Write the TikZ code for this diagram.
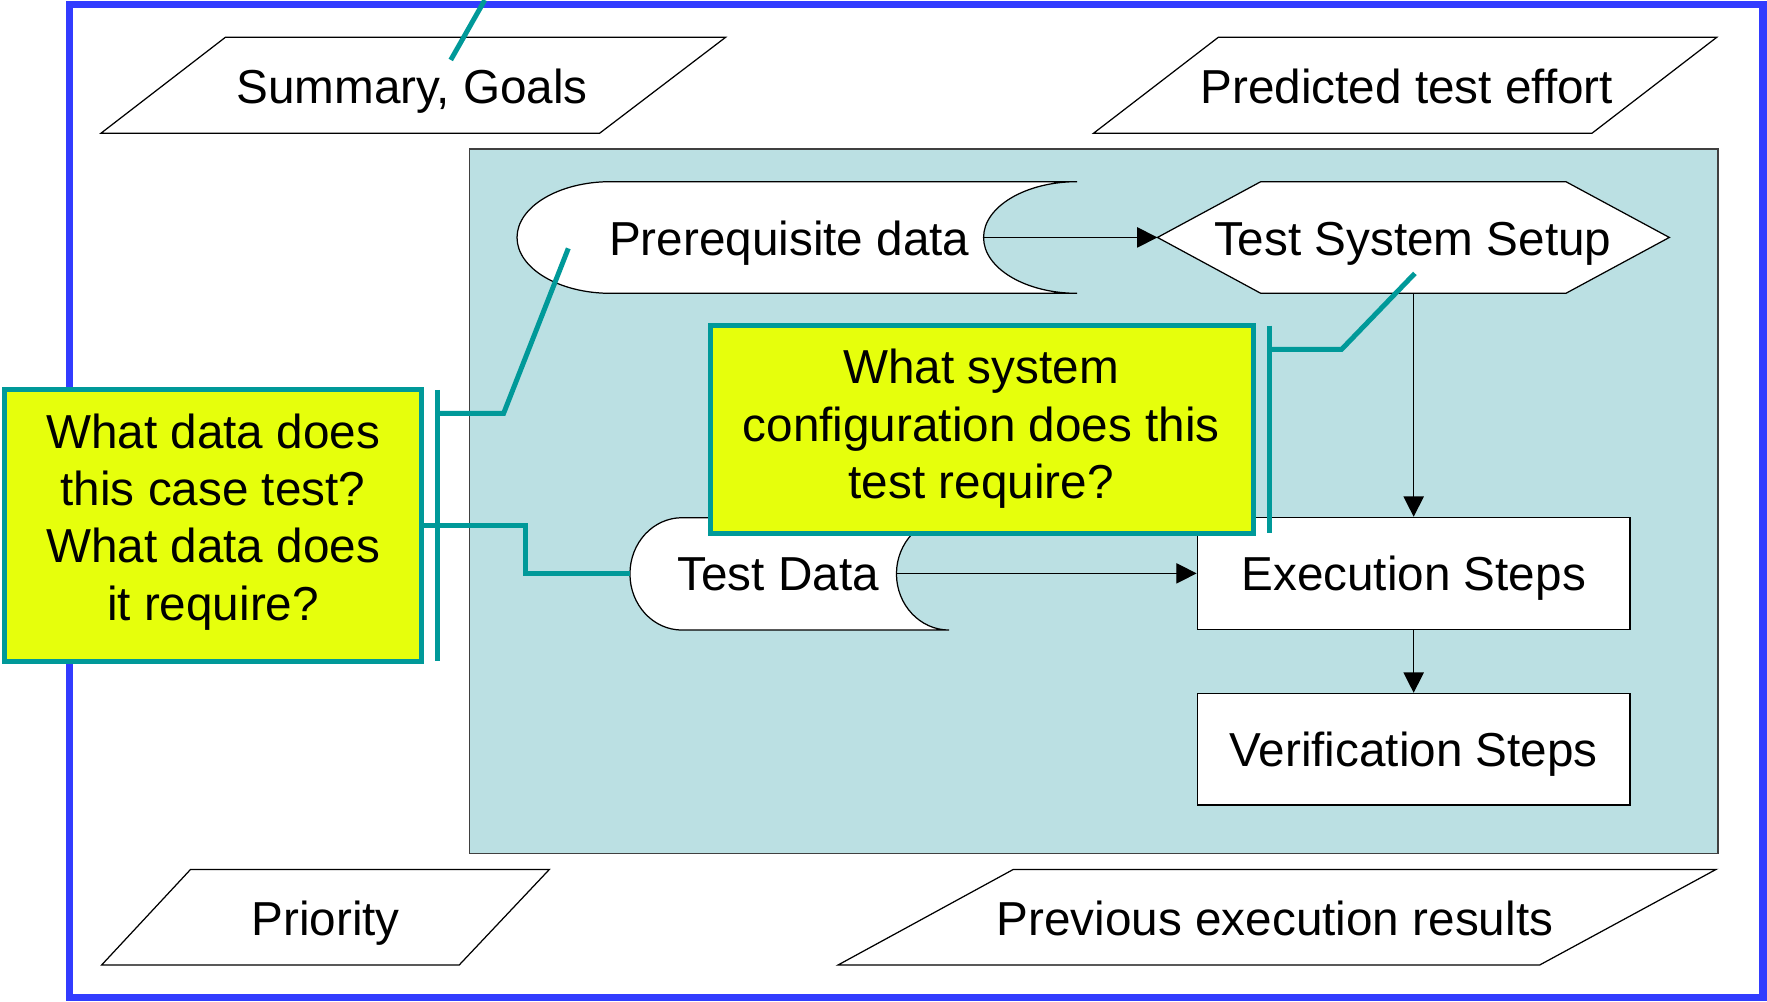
\documentclass[tikz,border=0pt]{standalone}
\usepackage{fontspec}
\setmainfont{Liberation Sans}
\usetikzlibrary{arrows.meta}
\definecolor{frameblue}{RGB}{50,60,255}
\definecolor{areablue}{RGB}{187,224,227}
\definecolor{calloutyellow}{RGB}{230,255,12}
\definecolor{tealc}{RGB}{0,153,153}
\begin{document}
\begin{tikzpicture}[x=0.5pt,y=-0.5pt,
  every node/.style={font=\fontsize{21.15pt}{25.4pt}\selectfont},
  outline/.style={draw=black, line width=0.55pt, fill=white},
  flow/.style={draw=black, line width=0.55pt, -{Triangle[length=9pt,width=9pt]}},
  tealline/.style={draw=tealc, line width=2.2pt},
  callout/.style={draw=tealc, line width=2.2pt, fill=calloutyellow, inner sep=0pt, rectangle},
  procbox/.style={outline, rectangle, minimum width=192.05pt, inner sep=0pt, text height=15.5pt, text depth=0pt},
  lbl/.style={inner sep=0pt, text height=15.5pt, text depth=0pt},
  mlbl/.style={inner sep=0pt, align=center, anchor=base}]
\useasboundingbox (0,0) rectangle (1568,888.3);
% outer frame
\draw[draw=frameblue, line width=3.3pt] (61.9,4.1) rectangle (1564.6,885);
% shaded area
\draw[fill=areablue, draw=black!75, line width=0.55pt] (416.3,132.2) rectangle (1524.4,757.3);
% parallelograms
\draw[outline] (200,33.1) -- (643.9,33.1) -- (532,118.3) -- (89.5,118.3) -- cycle;
\node[lbl] (summary) at (365.6,76.2) {Summary, Goals};
\draw[outline] (1081.1,33.1) -- (1523.4,33.1) -- (1412.6,118.3) -- (970.3,118.3) -- cycle;
\node[lbl] (effort) at (1248.3,76.2) {Predicted test effort};
\draw[outline] (169.1,771.5) -- (487.5,771.5) -- (407.5,856.3) -- (90.2,856.3) -- cycle;
\node[lbl] (priority) at (289,814.2) {Priority};
\draw[outline] (899.2,771.5) -- (1522.8,771.5) -- (1366.3,856.3) -- (743.7,856.3) -- cycle;
\node[lbl] (previous) at (1131.4,814.2) {Previous execution results};
% prerequisite data shape
\draw[outline] (955.9,161.2) -- (541.9,161.2)
  .. controls (496,161.2) and (458.8,183.4) .. (458.8,210.75)
  .. controls (458.8,238.1) and (496,260.3) .. (541.9,260.3)
  -- (955.9,260.3)
  .. controls (910,260.3) and (872.8,238.1) .. (872.8,210.75)
  .. controls (872.8,183.4) and (910,161.2) .. (955.9,161.2) -- cycle;
\node[lbl] (prereq) at (700.4,210.8) {Prerequisite data};
\coordinate (prereqR) at (872.8,210.7);
% hexagon
\draw[outline] (1027.1,210.7) -- (1118.8,161.2) -- (1389.5,161.2) -- (1481.3,210.7) -- (1389.5,260.3) -- (1118.8,260.3) -- cycle;
\node[lbl] (setup) at (1253.6,210.8) {Test System Setup};
\coordinate (hexL) at (1027.1,210.7);
\coordinate (hexB) at (1254.45,260.3);
% test data shape
\draw[outline] (842.2,459.4) -- (605.3,459.4)
  .. controls (579.6,459.4) and (559,481.7) .. (559,509.25)
  .. controls (559,536.8) and (579.6,559.1) .. (605.3,559.1)
  -- (842.2,559.1)
  .. controls (816.5,559.1) and (795.5,536.8) .. (795.5,509.25)
  .. controls (795.5,481.7) and (816.5,459.4) .. (842.2,459.4) -- cycle;
\node[lbl] (testdata) at (690.5,508.1) {Test Data};
\coordinate (tdR) at (795.6,508.8);
\coordinate (tdL) at (559,508.8);
% process boxes
\node[procbox, minimum height=49.7pt] (exec) at (1254.45,508.8) {Execution Steps};
\node[procbox, minimum height=49.55pt] (verif) at (1254.45,664.85) {Verification Steps};
% arrows
\draw[flow] (prereqR) -- (hexL);
\draw[flow] (hexB) -- (exec.north);
\draw[flow] (tdR) -- (tdR -| exec.west);
\draw[flow] (exec.south) -- (verif.north);
% teal connectors
\coordinate (summaryIn) at (400,53.2);
\coordinate (topEdge) at (430.2,0);
\draw[tealline] (summaryIn) -- (topEdge);
\coordinate (barAtop) at (388.1,346);
\coordinate (barAbot) at (388.1,586.3);
\coordinate (a1) at (388.1,366.8);
\coordinate (a1knee) at (446.9,366.8);
\coordinate (prereqIn) at (504.3,220.4);
\coordinate (a2) at (374,465.9);
\coordinate (a2knee) at (466.7,465.9);
\draw[tealline] (barAtop) -- (barAbot);
\draw[tealline] (a1) -- (a1knee) -- (prereqIn);
\draw[tealline] (a2) -- (a2knee) |- (tdL);
\coordinate (barBtop) at (1126.4,289);
\coordinate (barBbot) at (1126.4,472.7);
\coordinate (b1) at (1126.4,310);
\coordinate (b1knee) at (1190.5,310);
\coordinate (hexIn) at (1255.5,242.6);
\draw[tealline] (barBtop) -- (barBbot);
\draw[tealline] (b1) -- (b1knee) -- (hexIn);
% callouts
\node[callout, minimum width=184.8pt, minimum height=120.85pt] (callA) at (189.2,466.15) {};
\node[mlbl] (callAtext) at (189,550.2) {What data does\\this case test?\\What data does\\it require?};
\node[callout, minimum width=241.15pt, minimum height=92.05pt] (callB) at (871.25,381.25) {};
\node[mlbl] (callBtext) at (870.7,442.2) {What system\\configuration does this\\test require?};
\end{tikzpicture}
\end{document}
